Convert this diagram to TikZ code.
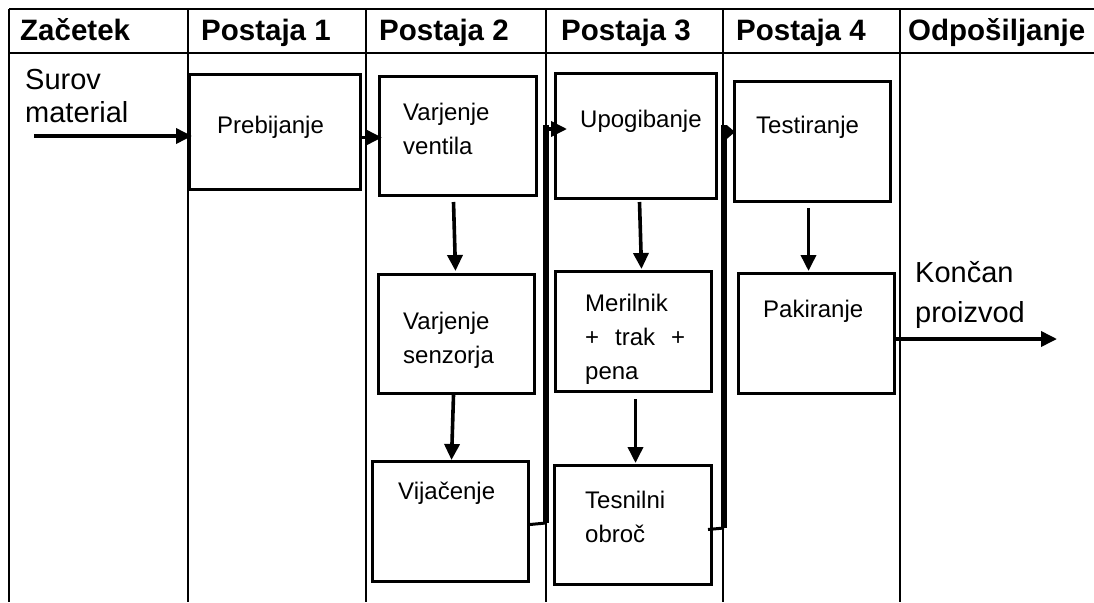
\documentclass[tikz,border=0pt]{standalone}
\usepackage{fontspec}
\setmainfont{Liberation Sans}
\usetikzlibrary{arrows.meta}
% left-aligned stack of lines whose reference point is the first baseline
\newcommand\lns[1]{\begin{tabular}[t]{@{}l@{}}#1\end{tabular}}
\begin{document}
\begin{tikzpicture}[x=1pt,y=-1pt,
  grid/.style={line width=2.2pt},
  box/.style={draw, line width=3pt, anchor=north west, inner sep=0pt},
  lbl/.style={anchor=base west, inner sep=0pt, font=\fontsize{24}{34}\selectfont},
  big/.style={anchor=base west, inner sep=0pt, font=\fontsize{29}{33}\selectfont},
  head/.style={anchor=base west, inner sep=0pt, font=\fontsize{29.5}{33}\selectfont\bfseries},
  flow/.style={line width=3.6pt, -{Triangle[length=16pt,width=15pt]}},
  bus/.style={line width=6pt},
  stub/.style={line width=3pt}]
\useasboundingbox (0,0) rectangle (1094,602);

% table grid
\draw[grid] (9,9) -- (1094,9);
\draw[grid] (9,53) -- (1094,53);
\foreach \cx in {9,188,366,546,723,900}
  \draw[grid] (\cx,9) -- (\cx,602);

% column headings
\node[head] (h0) at (20,41)  {Začetek};
\node[head] (h1) at (201,41) {Postaja 1};
\node[head] (h2) at (379,41) {Postaja 2};
\node[head] (h3) at (561,41) {Postaja 3};
\node[head] (h4) at (736,41) {Postaja 4};
\node[head] (h5) at (908,41) {Odpošiljanje};

% process boxes
\node[box, minimum width=171pt, minimum height=115pt] (pre) at (188,73) {};
\node[box, minimum width=157pt, minimum height=119pt] (vv)  at (378,75) {};
\node[box, minimum width=156pt, minimum height=119pt] (vs)  at (377,273) {};
\node[box, minimum width=156pt, minimum height=120pt] (vij) at (371,460) {};
\node[box, minimum width=161pt, minimum height=125pt] (upo) at (554,72) {};
\node[box, minimum width=156pt, minimum height=120pt] (mer) at (554,270) {};
\node[box, minimum width=157pt, minimum height=119pt] (tes) at (553,464) {};
\node[box, minimum width=156pt, minimum height=120pt] (tst) at (733,80) {};
\node[box, minimum width=156pt, minimum height=120pt] (pak) at (737,272) {};

% box texts
\node[lbl] (tpre) at (217,133) {Prebijanje};
\node[lbl] (tvv)  at (403,120) {\lns{Varjenje\\ventila}};
\node[lbl] (tvs)  at (403,329) {\lns{Varjenje\\senzorja}};
\node[lbl] (tvij) at (398,499) {Vijačenje};
\node[lbl] (tupo) at (580,127) {Upogibanje};
\node[lbl] (tmer) at (585,311) {\lns{Merilnik\\\makebox[100pt][s]{+ trak +}\\pena}};
\node[lbl] (ttes) at (585,508) {\lns{Tesnilni\\obroč}};
\node[lbl] (ttst) at (756,133) {Testiranje};
\node[lbl] (tpak) at (763,317) {Pakiranje};

% input and output labels
\node[big] (raw) at (25,89) {\lns{Surov\\material}};
\node[big, font=\fontsize{29}{40}\selectfont] (fin) at (915,282) {\lns{Končan\\proizvod}};

% input and first transfer
\coordinate (src) at (34,136);
\draw[flow, shorten >=-4pt] (src) -- (src -| pre.west);
\coordinate (a1) at ([yshift=-5.5pt]pre.east);
\draw[flow, shorten >=-4pt] (a1) -- (a1 -| vv.west);

% station 2 chain
\draw[flow] ([xshift=-4.5pt,yshift=-5pt]vv.south) -- ([xshift=-1pt,yshift=2pt]vs.north);
\draw[flow] ([xshift=-3pt]vs.south) -- ([xshift=1pt]vij.north);

% transfer station 2 -> station 3
\coordinate (j1) at (546,523);
\coordinate (j2) at (546,125);
\coordinate (j3) at (546,129);
\draw[stub] ([yshift=-3pt]vij.east) -- (j1);
\draw[bus] (j1) -- (j2);
\draw[flow, shorten >=-13pt] (j3) -- (j3 -| upo.west);

% station 3 chain
\draw[flow] ([xshift=3.5pt,yshift=-2pt]upo.south) -- ([xshift=8pt,yshift=1pt]mer.north);
\draw[flow] ([xshift=2pt,yshift=-6pt]mer.south) -- ([xshift=2.5pt,yshift=1pt]tes.north);

% transfer station 3 -> station 4
\coordinate (k1) at (724,528);
\coordinate (k2) at (724,125);
\coordinate (k3) at (723,132);
\draw[stub] ([xshift=-5pt,yshift=-4.5pt]tes.east) -- (k1);
\draw[bus] (k1) -- (k2);
\draw[flow, -{Triangle[length=8pt,width=13pt]}, shorten >=-2pt] (k3) -- (k3 -| tst.west);

% station 4 chain and dispatch
\draw[flow] ([xshift=-4pt,yshift=-5pt]tst.south) -- ([xshift=-8pt,yshift=1pt]pak.north);
\coordinate (out) at (1057,339);
\draw[flow] (pak.east |- out) -- (out);
\end{tikzpicture}
\end{document}
